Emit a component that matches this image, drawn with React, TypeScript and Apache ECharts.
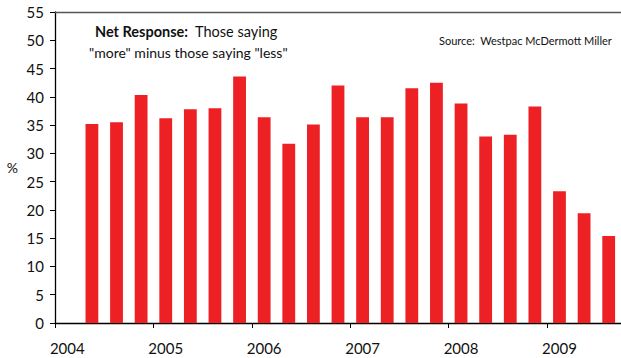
import React, { useEffect, useRef } from "react";
import * as echarts from "echarts";

const categories = [
  "2004Q1","2004Q2","2004Q3","2004Q4",
  "2005Q1","2005Q2","2005Q3","2005Q4",
  "2006Q1","2006Q2","2006Q3","2006Q4",
  "2007Q1","2007Q2","2007Q3","2007Q4",
  "2008Q1","2008Q2","2008Q3","2008Q4",
  "2009Q1","2009Q2","2009Q3",
];
const netResponse: (number | null)[] = [
  null, 35.2, 35.5, 40.3,
  36.2, 37.8, 38.0, 43.6,
  36.4, 31.7, 35.1, 42.0,
  36.4, 36.4, 41.5, 42.5,
  38.8, 33.0, 33.3, 38.3,
  23.3, 19.4, 15.4,
];
const yTicks = { min: 0, max: 55, interval: 5 };

const FONT = "Lato, 'Noto Sans', sans-serif";

export default function App() {
  const ref = useRef<HTMLDivElement>(null);
  useEffect(() => {
    document.body.style.margin = "0";
    if (!ref.current) return;
    const chart = echarts.init(ref.current, undefined, { renderer: "svg" });
    chart.setOption({
      animation: false,
      grid: { left: 55, right: -2, top: 12, bottom: 35, containLabel: false },
      xAxis: [
        {
          type: "category",
          data: categories,
          position: "bottom",
          axisLine: { show: true, lineStyle: { color: "#000", width: 1.3 } },
          axisTick: { show: true, interval: 3, length: 5, lineStyle: { color: "#000" } },
          axisLabel: {
            interval: 3,
            margin: 17,
            color: "#111",
            fontSize: 15,
            fontFamily: FONT,
            formatter: (v: string) => v.slice(0, 4),
          },
          splitLine: { show: false },
        },
        {
          type: "value",
          position: "top",
          min: 0,
          max: 1,
          axisLine: { show: true, lineStyle: { color: "#555", width: 1.3 } },
          axisTick: { show: false },
          axisLabel: { show: false },
          splitLine: { show: false },
        },
      ],
      yAxis: {
        type: "value",
        min: yTicks.min,
        max: yTicks.max,
        interval: yTicks.interval,
        name: "%",
        nameLocation: "middle",
        nameRotate: 0,
        nameGap: 37,
        nameTextStyle: { color: "#111", fontSize: 14, fontFamily: FONT },
        axisLine: { show: true, lineStyle: { color: "#000", width: 1.3 } },
        axisTick: { show: true, length: 5, lineStyle: { color: "#000" } },
        axisLabel: { color: "#111", fontSize: 15, fontFamily: FONT, margin: 11 },
        splitLine: { show: false },
      },
      series: [
        {
          type: "bar",
          xAxisIndex: 0,
          data: netResponse,
          barWidth: "52%",
          itemStyle: { color: "#ED2024" },
        },
      ],
      graphic: [
        {
          type: "text",
          left: 95,
          top: 24,
          style: {
            rich: {
              b: { fontWeight: "bold", fontSize: 14.5, fontFamily: FONT, fill: "#111" },
              n: { fontSize: 14.5, fontFamily: FONT, fill: "#111" },
            },
            text: "{b|Net Response:}{n|  Those saying}",
          },
        },
        {
          type: "text",
          left: 89,
          top: 45,
          style: {
            text: '"more" minus those saying "less"',
            fontSize: 14,
            fontFamily: FONT,
            fill: "#111",
          },
        },
        {
          type: "text",
          right: 9,
          top: 35,
          style: {
            text: "Source:  Westpac McDermott Miller",
            fontSize: 11,
            fontFamily: FONT,
            fill: "#111",
          },
        },
      ],
    });
    return () => chart.dispose();
  }, []);
  return <div ref={ref} style={{ width: 621, height: 358 }} />;
}
